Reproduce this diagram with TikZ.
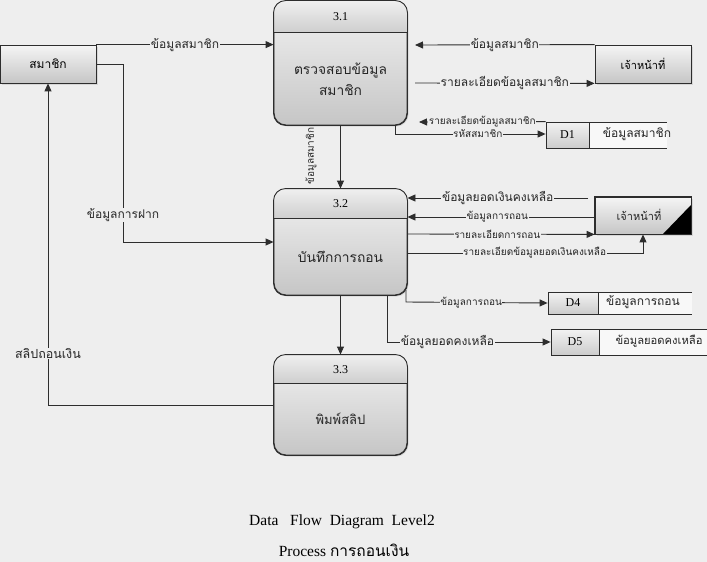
\documentclass[tikz,border=0pt]{standalone}
\usepackage{fontspec}
\setmainfont{Liberation Serif}
\newfontfamily\thai[Script=Thai]{Loma}
\usetikzlibrary{arrows.meta,shadows}
\definecolor{bg}{RGB}{238,238,238}
\definecolor{ln}{RGB}{45,45,45}
\tikzset{
  flow/.style={draw=ln, line width=0.9pt, -{Triangle[length=8pt,width=7pt]}},
  plain/.style={draw=ln, line width=0.9pt},
  lbl/.style={fill=bg, inner sep=0.6pt, font=\thai\fontsize{10}{11}\selectfont, text=black!85},
  lblb/.style={lbl, font=\thai\fontsize{12}{13}\selectfont},
  ent/.style={draw=ln, line width=0.8pt, rectangle, inner sep=0pt, top color=white!92!gray, bottom color=gray!45,
    drop shadow={shadow xshift=1.5pt, shadow yshift=-1.5pt, fill=gray!50}, font=\thai\fontsize{12}{13}\selectfont},
  proc/.style={draw=ln, line width=0.9pt, rectangle, rounded corners=12pt, inner sep=0pt,
    top color=white!90!gray, bottom color=gray!45,
    drop shadow={shadow xshift=1.5pt, shadow yshift=-1.5pt, fill=gray!50}},
  dbox/.style={draw=ln, line width=0.8pt, rectangle, inner sep=0pt, top color=white!90!gray, bottom color=gray!40,
    font=\fontsize{12}{13}\selectfont},
  ptext/.style={font=\thai\fontsize{13.8}{21}\selectfont, align=center, text=black!85},
  stxt/.style={font=\thai\fontsize{12}{13}\selectfont, text=black!85},
}
\begin{document}
\begin{tikzpicture}[x=1pt,y=-1pt]
\fill[bg] (0,0) rectangle (707,562);
\useasboundingbox (0,0) rectangle (707,562);

% entities
\node[ent, minimum width=96pt, minimum height=38pt] (member) at (48,64) {สมาชิก};
\node[ent, minimum width=96pt, minimum height=38pt, font=\thai\fontsize{11}{12}\selectfont] (staffA) at (643,64) {เจ้าหน้าที่};
\node[ent, minimum width=96pt, minimum height=37pt] (staffB) at (643,215.5) {};
\fill[black] (663,234) -- (691,234) -- (691,205) -- cycle;
\draw[ln, line width=0.8pt] (staffB.north west) rectangle (staffB.south east);
\node[stxt, font=\thai\fontsize{11}{12}\selectfont] (staffBt) at (639,215) {เจ้าหน้าที่};

% processes
\node[proc, minimum width=133pt, minimum height=124pt] (p31) at (340.5,63) {};
\node[proc, minimum width=133pt, minimum height=106pt] (p32) at (340.5,242) {};
\node[proc, minimum width=133pt, minimum height=100pt] (p33) at (340.5,405) {};
\foreach \p/\h in {p31/32, p32/218, p33/383}{
  \begin{scope}
    \clip[rounded corners=12pt] (\p.south west) rectangle (\p.north east);
    \shade[top color=gray!12, bottom color=gray!38] (\p.north west) rectangle (\p.east |- 0,\h);
  \end{scope}
  \draw[ln, line width=0.9pt, rounded corners=12pt] (\p.south west) rectangle (\p.north east);
  \draw[ln, line width=0.9pt] (\p.west |- 0,\h) -- (\p.east |- 0,\h);
}
\node[font=\fontsize{12}{13}\selectfont] (n31) at (340.5,17) {3.1};
\node[font=\fontsize{12}{13}\selectfont] (n32) at (340.5,204) {3.2};
\node[font=\fontsize{12}{13}\selectfont] (n33) at (340.5,370) {3.3};
\node[ptext] (t31) at (340.5,79) {ตรวจสอบข้อมูล\\สมาชิก};
\node[ptext] (t32) at (340.5,257) {บันทึกการถอน};
\node[ptext, font=\thai\fontsize{13}{14}\selectfont] (t33) at (340.5,419) {พิมพ์สลิป};

% data stores
\fill[white!60!bg] (589,122) rectangle (667,148);
\draw[plain, line width=0.8pt] (546,122) -- (667,122) (546,148) -- (667,148);
\node[dbox, minimum width=43pt, minimum height=26pt] (d1) at (567.5,135) {D1};
\node[stxt] (d1t) at (637,134) {ข้อมูลสมาชิก};

\fill[white!60!bg] (598,292) rectangle (692,314);
\draw[plain, line width=0.8pt] (548,292) -- (692,292) (548,314) -- (692,314);
\node[dbox, minimum width=50pt, minimum height=22pt] (d4) at (573,303) {D4};
\node[stxt] (d4t) at (643,302) {ข้อมูลการถอน};

\fill[white!60!bg] (599,329) rectangle (707,355);
\draw[plain, line width=0.8pt] (551,329) -- (707,329) (551,355) -- (707,355);
\node[dbox, minimum width=48pt, minimum height=26pt] (d5) at (575,342) {D5};
\node[stxt, font=\thai\fontsize{11.2}{12}\selectfont] (d5t) at (659,341) {ข้อมูลยอดคงเหลือ};

% coordinates
\coordinate (a1) at (415,45);
\coordinate (a2) at (415,83);
\coordinate (b1) at (395,125);
\coordinate (b2) at (419,122);
\coordinate (c1) at (588,198);
\coordinate (d4s) at (406,290);
\coordinate (d5s) at (387,295);

% connectors
\draw[flow] (member.north east) -- node[lblb]{ข้อมูลสมาชิก} (p31.west |- member.north east);
\draw[flow] (member.east |- 0,64) -- (123,64) -- node[lblb, pos=0.85]{ข้อมูลการฝาก} (123,242) -- (p32.west |- 0,242);
\draw[flow] (p33.west) -- (48,405) -- node[lblb, pos=0.16, font=\thai\fontsize{12.5}{13}\selectfont]{สลิปถอนเงิน} (member.south);
\draw[flow] (p31.south) -- (p32.north);
\node[lbl, rotate=90, fill=none] (lv) at (311,156) {ข้อมูลสมาชิก};
\draw[flow] (p32.south) -- (p33.north);

\draw[flow] (staffA.north west) -- node[lblb]{ข้อมูลสมาชิก} (a1);
\draw[flow] (a2) -- node[lblb, pos=0.5]{รายละเอียดข้อมูลสมาชิก} (staffA.south west);
\draw[flow] (b1) -- (395,134) -- node[lbl, pos=0.55]{รหัสสมาชิก} (d1.west |- 0,134);
\draw[flow] (d1.north west) -- node[lbl, pos=0.5]{รายละเอียดข้อมูลสมาชิก} (b2);

\draw[flow] (c1) -- node[lblb, pos=0.5]{ข้อมูลยอดเงินคงเหลือ} (p32.east |- c1);
\draw[flow] (staffB.west |- 0,217) -- node[lbl, pos=0.52]{ข้อมูลการถอน} (p32.east |- 0,217);
\draw[flow] (p32.east |- 0,234) -- node[lbl, pos=0.48]{รายละเอียดการถอน} (staffB.south west);
\draw[flow] (p32.east |- 0,253) -- node[lbl, pos=0.54]{รายละเอียดข้อมูลยอดเงินคงเหลือ} (643,253) -- (staffB.south);
\draw[flow] (d4s) -- (406,302) -- node[lbl, pos=0.46]{ข้อมูลการถอน} (d4.west);
\draw[flow] (d5s) -- (387,342) -- node[lblb, pos=0.37]{ข้อมูลยอดคงเหลือ} (d5.west);

% title
\node[font=\fontsize{15.5}{17}\selectfont] (title1) at (342,522) {Data\ \ \ Flow\ \ Diagram\ \ Level2};
\node[font=\fontsize{15.5}{17}\selectfont] (title2) at (344,550) {Process {\thai การถอนเงิน}};
\end{tikzpicture}
\end{document}
